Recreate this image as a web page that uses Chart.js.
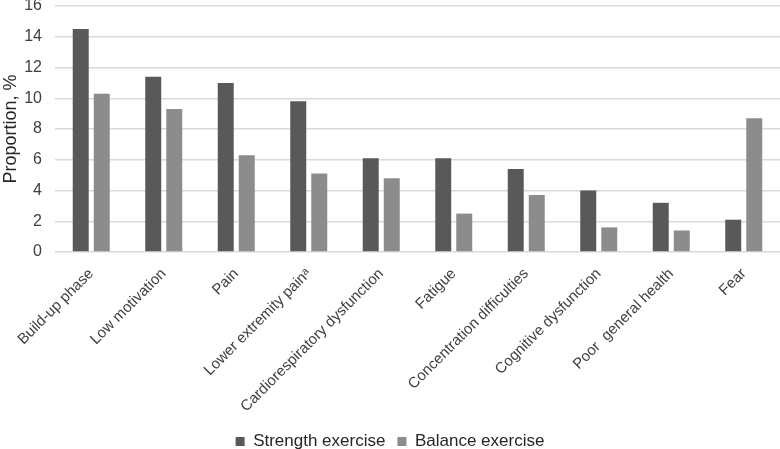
<!DOCTYPE html>
<html>
<head>
<meta charset="utf-8">
<script src="https://cdn.jsdelivr.net/npm/chart.js@4/dist/chart.umd.min.js"></script>
<style>
  html, body { margin: 0; padding: 0; background: #fff; }
  #wrap { width: 780px; height: 449px; }
</style>
</head>
<body>
<div id="wrap"><canvas id="myChart"></canvas></div>
<script>
// kategori dan nilai
const categories = ['Build-up phase', 'Low motivation', 'Pain', 'Lower extremity pain\u1D43',
  'Cardiorespiratory dysfunction', 'Fatigue', 'Concentration difficulties',
  'Cognitive dysfunction', 'Poor  general health', 'Fear'];
const strengthValues = [14.5, 11.4, 11.0, 9.8, 6.1, 6.1, 5.4, 4.0, 3.2, 2.1];
const balanceValues = [10.3, 9.3, 6.3, 5.1, 4.8, 2.5, 3.7, 1.6, 1.4, 8.7];
const yTicks = [0, 2, 4, 6, 8, 10, 12, 14, 16];

const fontFamily = '"Liberation Sans", Arial, sans-serif';

const ctx = document.getElementById('myChart').getContext('2d');
const myChart = new Chart(ctx, {
    type: 'bar',
    data: {
        labels: categories,
        datasets: [{
            label: 'Strength exercise',
            data: strengthValues,
            backgroundColor: '#595959',
            categoryPercentage: 0.58,
            barPercentage: 0.76
        }, {
            label: 'Balance exercise',
            data: balanceValues,
            backgroundColor: '#8c8c8c',
            categoryPercentage: 0.58,
            barPercentage: 0.76
        }]
    },
    options: {
        responsive: true,
        maintainAspectRatio: false,
        animation: false,
        layout: { padding: { top: 6, right: 0, bottom: -11, left: 0 } },
        plugins: {
            legend: {
                position: 'bottom',
                labels: {
                    color: '#262626',
                    font: { family: fontFamily, size: 17 },
                    boxWidth: 9,
                    boxHeight: 9,
                    padding: 12
                }
            },
            tooltip: { enabled: false }
        },
        scales: {
            x: {
                grid: { display: false },
                border: { display: false },
                ticks: {
                    color: '#404040',
                    font: { family: fontFamily, size: 15 },
                    minRotation: 45,
                    maxRotation: 45,
                    autoSkip: false,
                    padding: 5
                },
                afterFit: function(axis) {
                    axis.height = 169;
                    axis.paddingLeft = 0;
                    axis.paddingRight = 0;
                }
            },
            y: {
                min: 0,
                max: 16,
                afterBuildTicks: function(axis) {
                    axis.ticks = yTicks.map(v => ({ value: v }));
                },
                afterFit: function(axis) {
                    axis.width = 55;
                    axis.paddingTop = 0;
                },
                grid: { color: '#d9d9d9', lineWidth: 1.5, drawTicks: false },
                border: { display: false },
                ticks: {
                    color: '#404040',
                    font: { family: fontFamily, size: 16 },
                    padding: 13
                },
                title: {
                    display: true,
                    text: 'Proportion, %',
                    color: '#262626',
                    font: { family: fontFamily, size: 18 },
                    padding: 0
                }
            }
        }
    }
});
</script>
</body>
</html>
